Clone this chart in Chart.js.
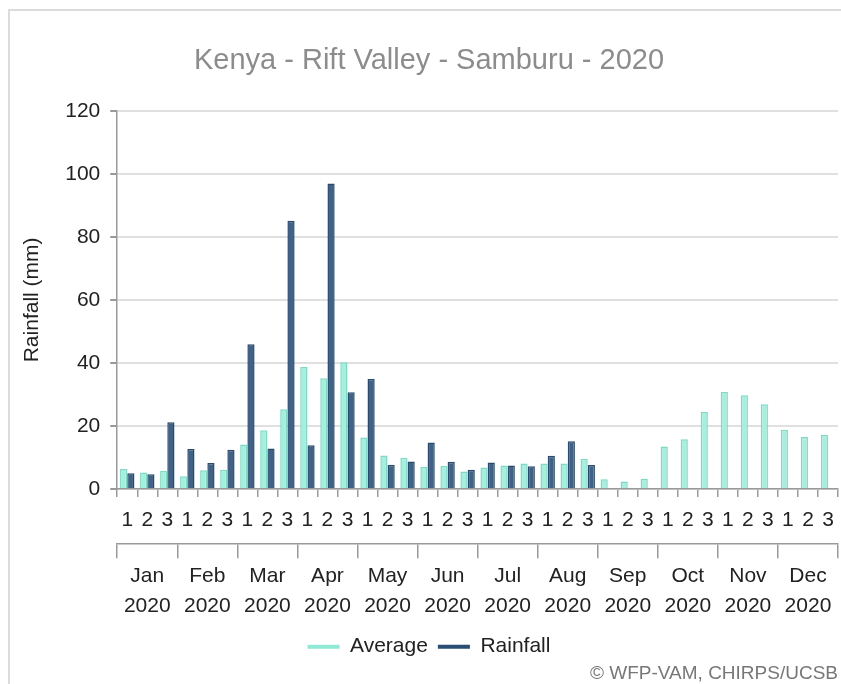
<!DOCTYPE html>
<html>
<head>
<meta charset="utf-8">
<script src="https://cdn.jsdelivr.net/npm/chart.js@4"></script>
<style>
  html, body { margin: 0; padding: 0; background: #fff; overflow: hidden; }
  #box { position: absolute; left: 8px; top: 9px; width: 846px; height: 700px;
         border: 2px solid #dcdcdc; box-sizing: border-box; }
  #wrap { position: absolute; left: 0; top: 0; width: 842px; height: 678px; }
</style>
</head>
<body>
<div id="box"><div id="wrap"><canvas id="myChart"></canvas></div></div>
<script>
// dekads of each month
const dekads = ['1','2','3','1','2','3','1','2','3','1','2','3','1','2','3','1','2','3',
                '1','2','3','1','2','3','1','2','3','1','2','3','1','2','3','1','2','3']
const months = ['Jan','Feb','Mar','Apr','May','Jun','Jul','Aug','Sep','Oct','Nov','Dec']
const year = '2020'

const averageValues = [6.3, 5.2, 5.7, 4.0, 5.9, 6.1, 14.1, 18.6, 25.3, 38.7, 35.1, 40.2,
                       16.3, 10.6, 9.9, 7.0, 7.3, 5.5, 6.8, 7.4, 8.1, 8.1, 8.1, 9.6,
                       3.1, 2.4, 3.2, 13.5, 15.8, 24.4, 30.8, 29.7, 26.9, 18.8, 16.5, 17.2]
const rainfallValues = [5.0, 4.7, 21.2, 12.7, 8.2, 12.4, 45.9, 12.8, 85.1, 13.9, 96.9, 30.7,
                        34.9, 7.7, 8.7, 14.7, 8.6, 6.1, 8.4, 7.4, 7.2, 10.5, 15.1, 7.6,
                        null, null, null, null, null, null, null, null, null, null, null, null]
const yTicks = [0, 20, 40, 60, 80, 100, 120]

const font = 'Liberation Sans, Arial, sans-serif'

const ctx = document.getElementById('myChart').getContext('2d')
const myChart = new Chart(ctx, {
    type: 'bar',
    data: {
        labels: dekads,
        datasets: [{
            label: 'Average',
            data: averageValues,
            backgroundColor: '#a3f0de',
            borderColor: '#7fd9c3',
            borderWidth: 1.5,
            categoryPercentage: 0.72,
            barPercentage: 1
        }, {
            label: 'Rainfall',
            data: rainfallValues,
            backgroundColor: '#3f6289',
            borderColor: '#2b4a6e',
            borderWidth: 1.5,
            categoryPercentage: 0.72,
            barPercentage: 1
        }]
    },
    options: {
        responsive: true,
        maintainAspectRatio: false,
        animation: false,
        layout: { padding: { left: 10, right: 14, top: 10, bottom: 2 } },
        plugins: {
            title: {
                display: true,
                text: 'Kenya - Rift Valley - Samburu - 2020',
                color: '#8c8c8c',
                font: { family: font, size: 29, weight: 'normal' },
                padding: { top: 23, bottom: 32 }
            },
            subtitle: {
                display: true,
                position: 'bottom',
                align: 'end',
                text: '\u00a9 WFP-VAM, CHIRPS/UCSB',
                color: '#777',
                font: { family: font, size: 19 },
                padding: { top: -5, bottom: 2 }
            },
            legend: {
                position: 'bottom',
                labels: {
                    usePointStyle: true,
                    pointStyle: 'line',
                    pointStyleWidth: 32,
                    padding: 10,
                    color: '#222',
                    font: { family: font, size: 21 },
                    generateLabels: (chart) => chart.data.datasets.map((ds, i) => ({
                        text: ds.label,
                        strokeStyle: i === 0 ? '#8fe9d5' : '#2a4d74',
                        fillStyle: i === 0 ? '#8fe9d5' : '#2a4d74',
                        lineWidth: 4,
                        pointStyle: 'line',
                        datasetIndex: i,
                        fontColor: '#222'
                    }))
                }
            },
            tooltip: { enabled: false }
        },
        scales: {
            x: {
                position: 'bottom',
                offset: true,
                grid: { offset: true, drawOnChartArea: false, color: '#999', tickLength: 8, lineWidth: 1.5 },
                border: { color: '#999', width: 1.5 },
                ticks: { color: '#222', font: { family: font, size: 21 }, padding: 11, maxRotation: 0, autoSkip: false }
            },
            month: {
                type: 'category',
                position: 'bottom',
                labels: months.map(m => [m, year]),
                offset: true,
                grid: { offset: true, drawOnChartArea: false, color: '#999', tickLength: 14, lineWidth: 1.5 },
                border: { color: '#999', width: 1.5 },
                ticks: { color: '#222', font: { family: font, size: 21, lineHeight: 1.43 }, padding: 3, maxRotation: 0, autoSkip: false },
                afterFit: (scale) => { scale.height += 2 }
            },
            y: {
                min: 0,
                max: 120,
                afterBuildTicks: (scale) => { scale.ticks = yTicks.map(v => ({ value: v })) },
                grid: { color: '#e0e0e0', lineWidth: 2, tickColor: '#999', tickLength: 7 },
                border: { color: '#999', width: 1.5 },
                ticks: { color: '#222', font: { family: font, size: 21 }, padding: 10 },
                title: {
                    display: true,
                    text: 'Rainfall (mm)',
                    color: '#222',
                    font: { family: font, size: 21 },
                    padding: { top: 0, bottom: 10 }
                }
            }
        }
    }
})
</script>
</body>
</html>
